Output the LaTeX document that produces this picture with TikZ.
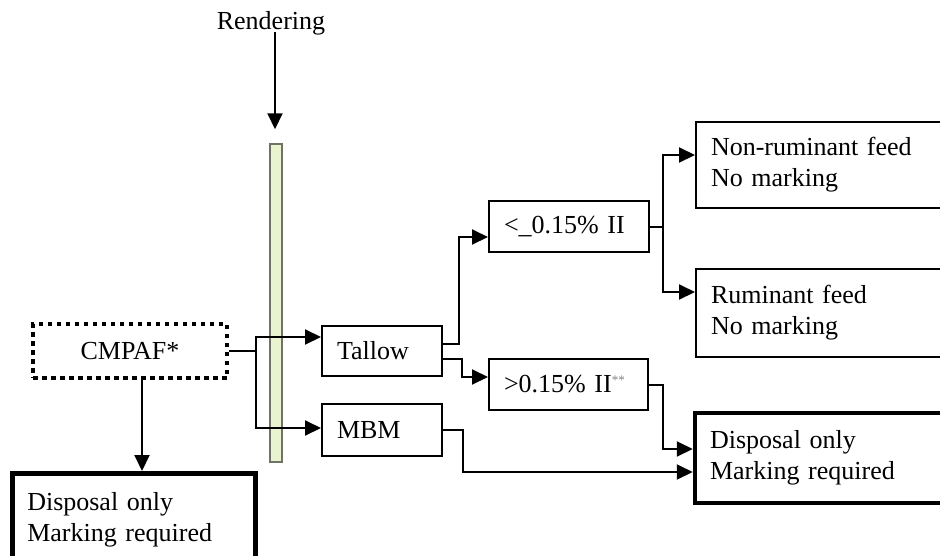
\documentclass[tikz,border=0pt]{standalone}
\usepackage{fontspec}
\setmainfont{Liberation Serif}
\usetikzlibrary{arrows.meta,calc}
\definecolor{barfill}{RGB}{234,243,207}
\definecolor{bargray}{RGB}{110,115,100}
\definecolor{stargray}{RGB}{130,130,130}
\begin{document}
\begin{tikzpicture}[x=1pt,y=-1pt,
  txt/.style={font=\fontsize{26}{31}\selectfont},
  box/.style={txt, draw, line width=2pt, inner xsep=15pt, inner ysep=0pt, align=left},
  thickbox/.style={box, line width=4.5pt},
  dotbox/.style={txt, draw, line width=4pt, dash pattern=on 4.5pt off 4.5pt, inner sep=0pt},
  conn/.style={line width=2pt},
  arr/.style={conn, -{Triangle[length=16pt,width=15pt]}},
]
\useasboundingbox (0,0) rectangle (940,555);
% rendering bar
\node[draw=bargray, fill=barfill, line width=1.5pt, minimum width=12pt, minimum height=318pt, inner sep=0pt] (bar) at (276,303) {};
\node[txt, anchor=base, inner sep=0pt] (rend) at (271,29) {Rendering};
% boxes
\node[dotbox, minimum width=194pt, minimum height=54pt] (cmpaf) at (130,351) {CMPAF*};
\node[thickbox, anchor=north west, inner ysep=19pt, text width=213pt] (disp1) at (10,471) {Disposal only\\Marking required};
\node[box, minimum width=120pt, minimum height=50pt, text width=90pt] (tallow) at (382,351) {Tallow};
\node[box, minimum width=120pt, minimum height=52pt, text width=90pt] (mbm) at (382,430) {MBM};
\node[box, minimum width=160pt, minimum height=51pt, text width=130pt] (low) at (569,226.5) {<\_0.15\% II};
\node[box, minimum width=159pt, minimum height=51pt, text width=129pt] (high) at (568.5,384.5) {>0.15\% II{\fontsize{13}{13}\selectfont\color{stargray}\raisebox{8pt}{**}}};
\node[box, minimum width=294pt, minimum height=86pt, text width=264pt] (nonrum) at (843,165) {Non-ruminant feed\\No marking};
\node[box, minimum width=294pt, minimum height=88pt, text width=264pt] (rum) at (843,313) {Ruminant feed\\No marking};
\node[thickbox, minimum width=295pt, minimum height=90pt, text width=265pt] (disp2) at (842.5,458) {Disposal only\\Marking required};
% connectors
\draw[arr] ($(rend.base -| bar.north)+(-1,3)$) -- ($(bar.north)+(-1,-14)$);
\coordinate (sp) at ($(cmpaf.east)+(27,0)$);
\draw[conn] (cmpaf.east) -- (sp);
\draw[arr] (sp) |- ($(tallow.west)+(0,-14)$);
\draw[arr] (sp) |- ($(mbm.west)+(0,-2)$);
\coordinate (cs) at ($(cmpaf.south)+(12,0)$);
\draw[arr] (cs) -- (cs |- disp1.north);
\draw[arr] ($(tallow.east)+(0,-7)$) -- ++(16,0) |- ($(low.west)+(0,10.5)$);
\draw[arr] ($(tallow.east)+(0,8)$) -- ++(19,0) |- ($(high.west)+(0,-7.5)$);
\coordinate (sp2) at ($(low.east)+(13,0)$);
\draw[conn] (low.east) -- (sp2);
\draw[arr] (sp2) |- ($(nonrum.west)+(0,-10)$);
\draw[arr] (sp2) |- ($(rum.west)+(0,-21)$);
\draw[arr] (high.east) -- ++(14,0) |- ($(disp2.west)+(0,-9)$);
\draw[arr] (mbm.east) -- ++(20,0) |- ($(disp2.west)+(0,14)$);
\end{tikzpicture}
\end{document}
